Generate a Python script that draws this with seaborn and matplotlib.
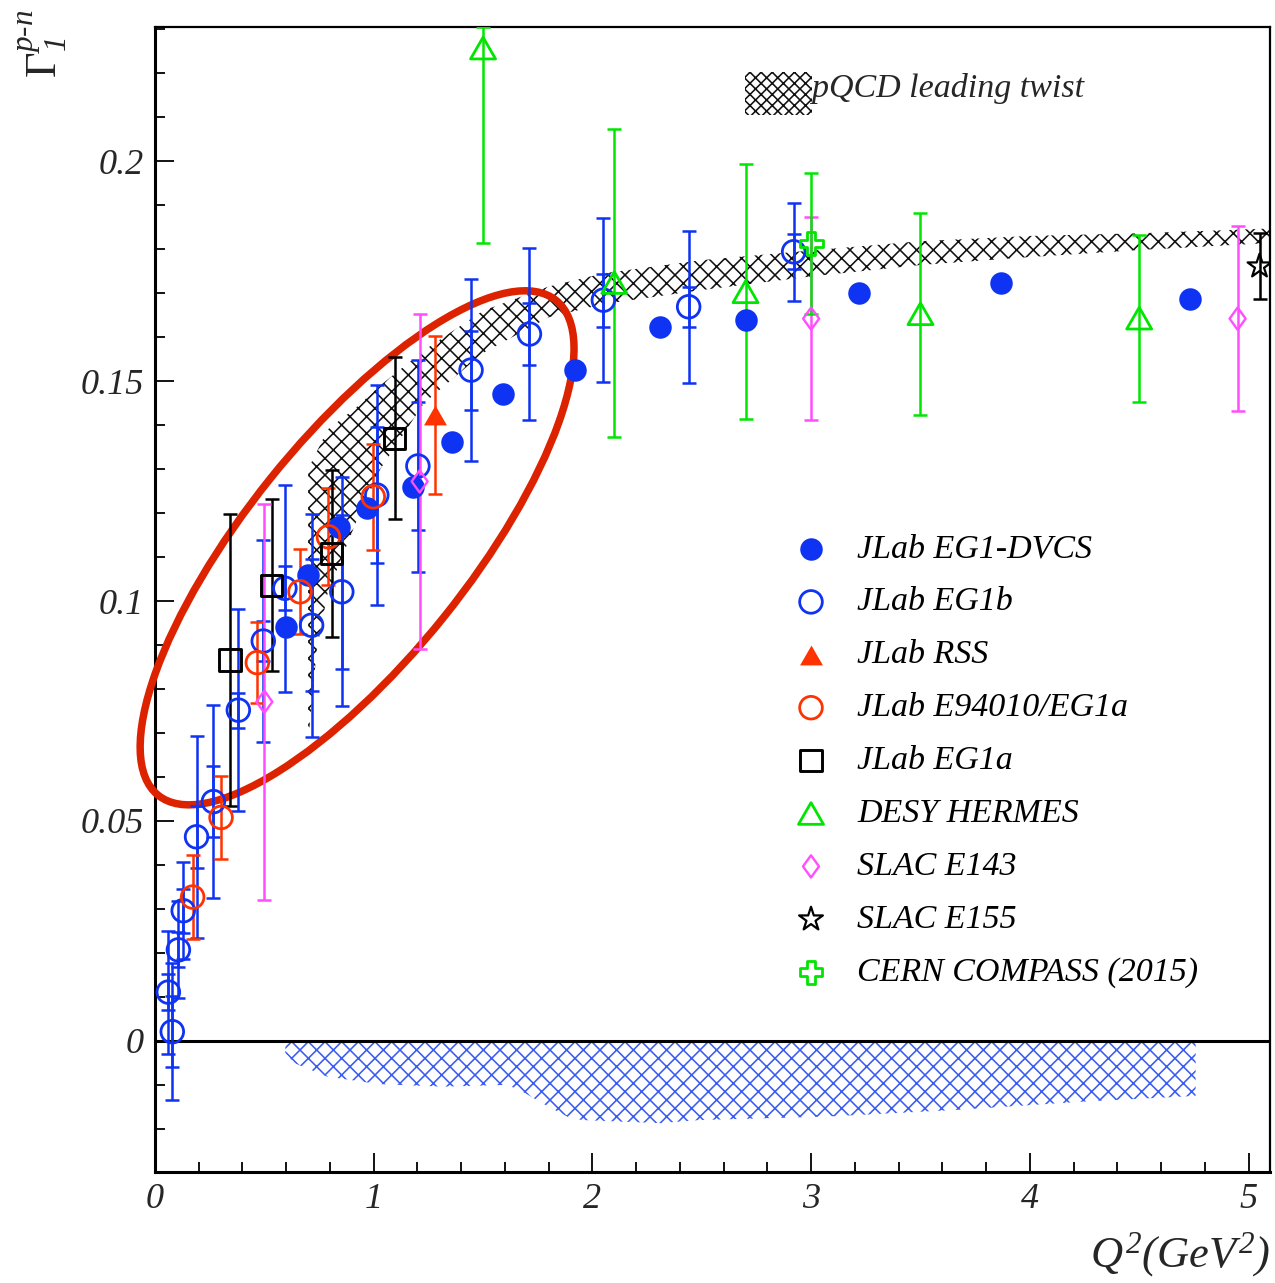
import numpy as np
import pandas as pd
import matplotlib
matplotlib.use("Agg")
import matplotlib.pyplot as plt
import seaborn as sns
from matplotlib.patches import Ellipse, Rectangle
from matplotlib.path import Path
from matplotlib.ticker import MultipleLocator, FuncFormatter
from matplotlib.transforms import ScaledTranslation

# ---------------- data: Bjorken sum Gamma_1^{p-n} vs Q^2 ----------------
dvcs_q2 = [0.60, 0.70, 0.84, 0.97, 1.18, 1.36, 1.59, 1.92, 2.31, 2.70, 3.22, 3.87, 4.73]
dvcs_g1 = [0.0941, 0.1059, 0.1169, 0.1211, 0.1259, 0.1361, 0.1470, 0.1525, 0.1623, 0.1639, 0.1700, 0.1723, 0.1687]

eg1b_q2 = [0.061, 0.079, 0.107, 0.129, 0.190, 0.267, 0.381, 0.495, 0.594, 0.716, 0.854,
           1.014, 1.202, 1.445, 1.712, 2.05, 2.44, 2.92]
eg1b_g1 = [0.0111, 0.0021, 0.0207, 0.0296, 0.0464, 0.0544, 0.0752, 0.0909, 0.1029, 0.0945,
           0.1021, 0.1241, 0.1307, 0.1525, 0.1607, 0.1684, 0.1669, 0.1794]
eg1b_tot = [0.0140, 0.0155, 0.0110, 0.0110, 0.0230, 0.0220, 0.0230, 0.0230, 0.0235, 0.0253,
            0.0260, 0.0250, 0.0240, 0.0206, 0.0195, 0.0186, 0.0173, 0.0112]
eg1b_stat = [0.0040, 0.0080, 0.0040, 0.0050, 0.0070, 0.0080, 0.0040, 0.0045, 0.0050, 0.0150,
             0.0175, 0.0155, 0.0145, 0.0090, 0.0070, 0.0060, 0.0045, 0.0040]

rss_q2 = [1.28]
rss_g1 = [0.1423]
rss_err = [0.018]

e94010_q2 = [0.172, 0.302, 0.468, 0.663, 0.793, 0.998]
e94010_g1 = [0.0327, 0.0508, 0.0860, 0.1021, 0.1146, 0.1237]
e94010_err = [0.0095, 0.0095, 0.0092, 0.0097, 0.0110, 0.0120]

eg1a_q2 = [0.343, 0.533, 0.808, 1.097]
eg1a_g1 = [0.0866, 0.1036, 0.1108, 0.1370]
eg1a_err = [0.0333, 0.0195, 0.0190, 0.0184]

hermes_q2 = [1.50, 2.10, 2.70, 3.50, 4.50]
hermes_g1 = [0.2257, 0.1724, 0.1703, 0.1653, 0.1643]
hermes_err_lo = [0.0444, 0.0350, 0.0290, 0.0230, 0.0190]
hermes_err_hi = [0.0048, 0.0350, 0.0290, 0.0230, 0.0190]

e143_q2 = [0.50, 1.21, 3.00, 4.95]
e143_g1 = [0.0771, 0.1272, 0.1642, 0.1642]
e143_err = [0.0450, 0.0380, 0.0230, 0.0210]

e155_q2 = [5.05]
e155_g1 = [0.1761]
e155_err = [0.0075]

compass_q2 = [3.00]
compass_g1 = [0.1813]
compass_err = [0.0160]

# pQCD leading-twist band
pqcd_q2 = [0.70, 0.74, 0.79, 0.92, 1.03, 1.23, 1.50, 1.80, 2.05, 2.50, 3.00, 3.50, 4.00, 4.50, 5.10]
pqcd_hi = [0.130, 0.134, 0.139, 0.144, 0.149, 0.157, 0.166, 0.1715, 0.1745, 0.1775, 0.1797,
           0.1818, 0.1830, 0.1836, 0.1847]
pqcd_lo = [0.068, 0.089, 0.102, 0.118, 0.130, 0.145, 0.1564, 0.1645, 0.1675, 0.1707, 0.1738,
           0.1764, 0.1782, 0.1798, 0.1814]

# EG1-DVCS systematic uncertainty band
sys_q2 = [0.596, 0.64, 0.786, 1.021, 1.314, 1.607, 1.665, 1.783, 1.90, 1.958, 2.31, 2.486,
          3.072, 3.659, 4.245, 4.758]
sys_lo = [-0.0028, -0.0051, -0.0081, -0.0098, -0.0104, -0.0100, -0.0111, -0.0145, -0.0176,
          -0.0180, -0.0187, -0.0180, -0.0172, -0.0157, -0.0138, -0.0125]

# ---------------- styling ----------------
sns.set_theme(style="ticks")
plt.rcParams["font.family"] = ["Liberation Serif", "DejaVu Serif"]
plt.rcParams["font.style"] = "italic"
plt.rcParams["mathtext.fontset"] = "custom"
plt.rcParams["mathtext.rm"] = "Liberation Serif:italic"
plt.rcParams["mathtext.it"] = "Liberation Serif:italic"
plt.rcParams["mathtext.sf"] = "Liberation Serif:roman"
plt.rcParams["hatch.linewidth"] = 1.15

BLUE = "#0f33f2"
RED = "#ff3300"
GREEN = "#00e600"
MAGENTA = "#ff4dff"
BLACK = "#000000"

diamond = Path([(0, 1), (0.72, 0), (0, -1), (-0.72, 0), (0, 1)],
               [Path.MOVETO, Path.LINETO, Path.LINETO, Path.LINETO, Path.CLOSEPOLY])
tri_up = Path([(-1, -0.866), (1, -0.866), (0, 0.866), (-1, -0.866)],
              [Path.MOVETO, Path.LINETO, Path.LINETO, Path.CLOSEPOLY])

def frame(name, q2, g1, lo, hi):
    return pd.DataFrame({"Q2": q2, "Gamma1": g1, "err_lo": lo, "err_hi": hi, "experiment": name})

df = pd.concat([
    frame("JLab EG1-DVCS", dvcs_q2, dvcs_g1, np.zeros(len(dvcs_q2)), np.zeros(len(dvcs_q2))),
    frame("JLab EG1b", eg1b_q2, eg1b_g1, eg1b_tot, eg1b_tot),
    frame("JLab RSS", rss_q2, rss_g1, rss_err, rss_err),
    frame("JLab E94010/EG1a", e94010_q2, e94010_g1, e94010_err, e94010_err),
    frame("JLab EG1a", eg1a_q2, eg1a_g1, eg1a_err, eg1a_err),
    frame("DESY HERMES", hermes_q2, hermes_g1, hermes_err_lo, hermes_err_hi),
    frame("SLAC E143", e143_q2, e143_g1, e143_err, e143_err),
    frame("SLAC E155", e155_q2, e155_g1, e155_err, e155_err),
    frame("CERN COMPASS (2015)", compass_q2, compass_g1, compass_err, compass_err),
], ignore_index=True)

styles = {
    "JLab EG1-DVCS":       dict(marker="o", s=16.2**2, fc=BLUE, ec=BLUE, lw=0.0, color=BLUE),
    "JLab EG1b":           dict(marker="o", s=16.3**2, fc="none", ec=BLUE, lw=2.0, color=BLUE),
    "JLab RSS":            dict(marker=tri_up, s=16.5**2, fc=RED, ec=RED, lw=0.0, color=RED),
    "JLab E94010/EG1a":    dict(marker="o", s=16.3**2, fc="none", ec=RED, lw=2.0, color=RED),
    "JLab EG1a":           dict(marker="s", s=15.2**2, fc="none", ec=BLACK, lw=2.1, color=BLACK),
    "DESY HERMES":         dict(marker=tri_up, s=18.0**2, fc="none", ec=GREEN, lw=2.0, color=GREEN),
    "SLAC E143":           dict(marker=diamond, s=16.0**2, fc="none", ec=MAGENTA, lw=1.7, color=MAGENTA),
    "SLAC E155":           dict(marker="*", s=18.0**2, fc="none", ec=BLACK, lw=1.6, color=BLACK),
    "CERN COMPASS (2015)": dict(marker="P", s=16.5**2, fc="none", ec=GREEN, lw=2.0, color=GREEN),
}

W, H = 1275, 1283
fig = plt.figure(figsize=(W / 100, H / 100), dpi=100)
ax = fig.add_axes([155 / W, 1 - 1172 / H, 1115 / W, 1145 / H])
ax.set_facecolor("white")

ax.set_xlim(0, 5.098)
ax.set_ylim(-0.0298, 0.2305)

# bands
ax.fill_between(sys_q2, sys_lo, 0, facecolor="none", edgecolor="#3a5cf2", hatch="xx",
                linewidth=0, zorder=1)
ax.fill_between(pqcd_q2, pqcd_lo, pqcd_hi, facecolor="none", edgecolor="#111111", hatch="xx",
                linewidth=0, zorder=1)
ax.axhline(0, color="black", lw=2.2, zorder=2)

# highlighted low-Q2 region
xc, yc = 0.924, 0.1121
ring = Ellipse((0, 0), width=6.35, height=2.22, angle=51.2, facecolor="none",
               edgecolor="#dd2200", linewidth=5.4,
               transform=fig.dpi_scale_trans + ScaledTranslation(xc, yc, ax.transData),
               clip_on=False, zorder=3)
ax.add_patch(ring)

# data points with error bars
for name, st in styles.items():
    sub = df[df["experiment"] == name]
    if (sub["err_hi"] > 0).any():
        ax.errorbar(sub["Q2"], sub["Gamma1"], yerr=[sub["err_lo"], sub["err_hi"]], fmt="none",
                    ecolor=st["color"], elinewidth=1.8, capsize=4.8, capthick=1.8, zorder=4)
    if name == "JLab EG1b":
        ax.errorbar(sub["Q2"], sub["Gamma1"], yerr=eg1b_stat, fmt="none",
                    ecolor=st["color"], elinewidth=1.8, capsize=4.8, capthick=1.8, zorder=4)
    sns.scatterplot(data=sub, x="Q2", y="Gamma1", marker=st["marker"], s=st["s"],
                    facecolor=st["fc"], edgecolor=st["ec"], linewidth=st["lw"],
                    ax=ax, legend=False, zorder=5)

# legend (marker column + label column)
leg_x_marker = (811 - 155) / 1115
leg_x_text = (857 - 155) / 1115
for i, (name, st) in enumerate(styles.items()):
    y = (1172 - 549) / 1145 - i * 52.9 / 1145
    ax.scatter([leg_x_marker], [y], transform=ax.transAxes, marker=st["marker"], s=st["s"],
               facecolor=st["fc"], edgecolor=st["ec"], linewidths=st["lw"], clip_on=False,
               zorder=6)
    ax.text(leg_x_text, y, name, transform=ax.transAxes, va="center", ha="left",
            fontsize=24.5, color="black")

ax.add_patch(Rectangle(((745 - 155) / 1115, (1172 - 115) / 1145), 67 / 1115, 43 / 1145,
                       transform=ax.transAxes, facecolor="none", edgecolor="#111111",
                       hatch="xxx", linewidth=0))
ax.text((812 - 155) / 1115, (1172 - 88) / 1145, "pQCD leading twist", transform=ax.transAxes,
        va="center", ha="left", fontsize=24.5)

# axes, ticks
ax.xaxis.set_major_locator(MultipleLocator(1))
ax.xaxis.set_minor_locator(MultipleLocator(0.2))
ax.yaxis.set_major_locator(MultipleLocator(0.05))
ax.yaxis.set_minor_locator(MultipleLocator(0.01))
fmt = FuncFormatter(lambda v, p: f"{round(v, 4):g}")
ax.xaxis.set_major_formatter(fmt)
ax.yaxis.set_major_formatter(fmt)
ax.tick_params(which="both", direction="in", top=False, right=False, color="black")
ax.tick_params(which="major", length=14, width=1.3, labelsize=26, pad=8)
ax.tick_params(which="minor", length=7, width=1.3)
for lab in ax.get_xticklabels() + ax.get_yticklabels():
    lab.set_fontstyle("italic")

for side in ["left", "bottom"]:
    ax.spines[side].set_linewidth(2.2)
for side in ["top", "right"]:
    ax.spines[side].set_linewidth(1.6)
for sp in ax.spines.values():
    sp.set_color("black")

ax.set_xlabel(r"$Q^{2}(GeV^{2})$", fontsize=32, ha="right", va="baseline")
ax.xaxis.set_label_coords(1.0, (1172 - 1267) / 1145)
ax.set_ylabel("$\\mathsf{\\Gamma}_{1}^{p\u2010n}$", fontsize=32,
              ha="right", va="baseline", rotation=90)
ax.yaxis.set_label_coords((57 - 155) / 1115, (1172 - 10) / 1145)

fig.savefig("out.png", dpi=100, facecolor="white")
